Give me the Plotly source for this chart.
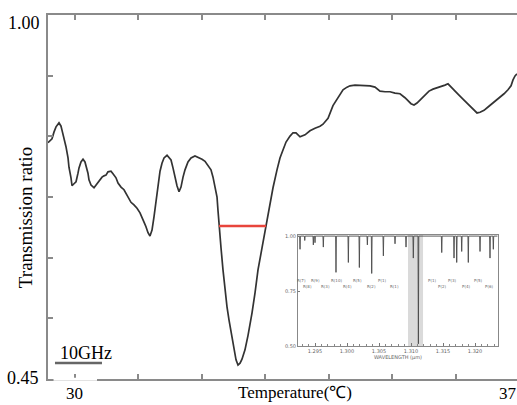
import plotly.graph_objects as go

# ---------------- main spectrum ----------------
temperature = [
    29.583, 29.614, 29.646, 29.677, 29.709, 29.756, 29.788, 29.803, 29.835, 29.866,
    29.898, 29.913, 29.945, 29.961, 29.992, 30.024, 30.055, 30.071, 30.102, 30.134,
    30.165, 30.181, 30.212, 30.228, 30.260, 30.307, 30.338, 30.354, 30.401, 30.433,
    30.464, 30.496, 30.527, 30.574, 30.606, 30.653, 30.685, 30.732, 30.779, 30.811,
    30.858, 30.889, 30.936, 30.984, 31.031, 31.062, 31.094, 31.125, 31.157, 31.188,
    31.220, 31.251, 31.283, 31.298, 31.330, 31.346, 31.377, 31.409, 31.456, 31.487,
    31.519, 31.550, 31.582, 31.613, 31.645, 31.676, 31.708, 31.739, 31.786, 31.834,
    31.896, 31.944, 32.007, 32.054, 32.101, 32.148, 32.180, 32.211, 32.243, 32.258,
    32.274, 32.306, 32.337, 32.369, 32.400, 32.432, 32.479, 32.510, 32.542, 32.573,
    32.605, 32.636, 32.683, 32.731, 32.762, 32.794, 32.841, 32.888, 32.951, 33.014,
    33.045, 33.077, 33.124, 33.187, 33.234, 33.281, 33.329, 33.392, 33.439, 33.486,
    33.549, 33.628, 33.706, 33.785, 33.864, 33.911, 33.990, 34.068, 34.147, 34.226,
    34.289, 34.336, 34.415, 34.493, 34.572, 34.651, 34.729, 34.808, 34.887, 34.965,
    35.044, 35.123, 35.201, 35.249, 35.296, 35.343, 35.390, 35.453, 35.516, 35.579,
    35.642, 35.705, 35.768, 35.831, 35.878, 35.925, 35.988, 36.051, 36.114, 36.177,
    36.240, 36.287, 36.335, 36.382, 36.445, 36.508, 36.571, 36.634, 36.697, 36.760,
    36.822, 36.870, 36.901, 36.933, 36.964,
]
transmission = [
    0.807, 0.810, 0.813, 0.823, 0.831, 0.837, 0.832, 0.826, 0.814, 0.801,
    0.784, 0.770, 0.754, 0.742, 0.745, 0.748, 0.761, 0.769, 0.778, 0.782,
    0.778, 0.773, 0.761, 0.751, 0.743, 0.739, 0.743, 0.746, 0.752, 0.755,
    0.757, 0.758, 0.763, 0.764, 0.760, 0.754, 0.746, 0.740, 0.736, 0.731,
    0.723, 0.717, 0.713, 0.708, 0.701, 0.695, 0.687, 0.680, 0.671, 0.666,
    0.675, 0.695, 0.716, 0.733, 0.751, 0.764, 0.776, 0.784, 0.788, 0.785,
    0.781, 0.769, 0.755, 0.742, 0.733, 0.740, 0.755, 0.766, 0.778, 0.784,
    0.787, 0.785, 0.782, 0.779, 0.773, 0.766, 0.755, 0.742, 0.725, 0.705,
    0.681, 0.648, 0.615, 0.584, 0.559, 0.539, 0.513, 0.494, 0.479, 0.471,
    0.474, 0.480, 0.494, 0.516, 0.532, 0.550, 0.580, 0.615, 0.648, 0.681,
    0.702, 0.720, 0.739, 0.766, 0.784, 0.796, 0.808, 0.817, 0.822, 0.822,
    0.816, 0.819, 0.825, 0.829, 0.832, 0.835, 0.844, 0.863, 0.876, 0.887,
    0.891, 0.893, 0.894, 0.894, 0.894, 0.893, 0.891, 0.885, 0.884, 0.884,
    0.882, 0.881, 0.875, 0.870, 0.866, 0.864, 0.867, 0.873, 0.879, 0.885,
    0.888, 0.890, 0.891, 0.894, 0.896, 0.891, 0.885, 0.879, 0.873, 0.867,
    0.861, 0.856, 0.852, 0.853, 0.856, 0.861, 0.866, 0.870, 0.875, 0.881,
    0.887, 0.893, 0.902, 0.908, 0.911,
]
fwhm_temperature = [32.274, 33.014]
fwhm_level = [0.681, 0.681]

x_ticks = [30, 31, 32, 33, 34, 35, 36, 37]
y_ticks = [0.45, 0.5417, 0.6333, 0.725, 0.8167, 0.9083, 1.00]

# ---------------- inset spectrum ----------------
inset_wl = [1.29266, 1.29340, 1.29474, 1.29500, 1.29630, 1.29828, 1.30021, 1.30193,
            1.30318, 1.30386, 1.30568, 1.30750, 1.30922, 1.31036, 1.31115, 1.31480,
            1.31672, 1.31714, 1.31792, 1.31895, 1.32078, 1.32234, 1.32286]
inset_depth = [0.94, 0.98, 0.96, 0.97, 0.95, 0.835, 0.88, 0.857,
               0.96, 0.83, 0.91, 0.965, 0.95, 0.90, 0.51, 0.925,
               0.90, 0.88, 0.93, 0.88, 0.93, 0.90, 0.94]
inset_labels = ["R(7)", "R(8)", "R(9)", "R(3)", "R(10)", "R(4)", "R(5)", "R(2)", "P(1)", "R(1)",
                "P(1)", "P(2)", "P(3)", "P(4)", "P(5)", "P(6)"]
inset_label_wl = [1.2929, 1.2939, 1.2950, 1.2967, 1.2983, 1.3000, 1.3017, 1.3038, 1.3056, 1.3074,
                  1.3133, 1.3149, 1.3165, 1.3186, 1.3205, 1.3222]
inset_label_level = [0.80, 0.77, 0.80, 0.77, 0.80, 0.77, 0.80, 0.77, 0.80, 0.77,
                     0.80, 0.77, 0.80, 0.77, 0.80, 0.77]
inset_xticks = [1.295, 1.300, 1.305, 1.310, 1.315, 1.320]
inset_xticktext = ["1.295", "1.300", "1.305", "1.310", "1.315", "1.320"]
inset_yticks = [0.50, 0.75, 1.00]
inset_yticktext = ["0.50", "0.75", "1.00"]
band_wl = [1.30953, 1.31188]

SERIF = "Liberation Serif, Times New Roman, serif"
AX = "#8a8a8a"

fig = go.Figure()
fig.add_trace(go.Scatter(x=temperature, y=transmission, mode="lines",
                         line=dict(color="#333333", width=1.7), hoverinfo="skip"))
fig.add_trace(go.Scatter(x=fwhm_temperature, y=fwhm_level, mode="lines",
                         line=dict(color="#e8453c", width=2.5), hoverinfo="skip"))

# inset: gray band as a filled trace
fig.add_trace(go.Scatter(x=[band_wl[0], band_wl[1], band_wl[1], band_wl[0], band_wl[0]],
                         y=[0.5, 0.5, 1.005, 1.005, 0.5], mode="lines", fill="toself",
                         fillcolor="#dadada", line=dict(width=0, color="#dadada"),
                         xaxis="x2", yaxis="y2", hoverinfo="skip"))

# inset spectrum line built from spikes
sx, sy = [1.2924], [1.0]
for w, d in zip(inset_wl, inset_depth):
    sx += [w - 0.00006, w, w + 0.00006]
    sy += [1.0, d, 1.0]
sx.append(1.3235)
sy.append(1.0)
fig.add_trace(go.Scatter(x=sx, y=sy, mode="lines", xaxis="x2", yaxis="y2",
                         line=dict(color="#4a4a4a", width=0.9), hoverinfo="skip"))

fig.update_layout(
    width=517, height=405,
    margin=dict(l=48, r=0, t=15, b=26),
    paper_bgcolor="white", plot_bgcolor="white",
    showlegend=False,
    font=dict(family=SERIF, color="black", size=17),
    xaxis=dict(domain=[0, 1], range=[29.583, 36.964], tickvals=x_ticks,
               showticklabels=False, ticks="inside", ticklen=5, tickwidth=1.5,
               tickcolor=AX, showline=True, linecolor=AX, linewidth=1.5,
               mirror="ticks", showgrid=False, zeroline=False),
    yaxis=dict(domain=[0, 1], range=[0.45, 1.00], tickvals=y_ticks,
               showticklabels=False, ticks="inside", ticklen=5, tickwidth=1.5,
               tickcolor=AX, showline=True, linecolor=AX, linewidth=1.5,
               showgrid=False, zeroline=False),
    xaxis2=dict(domain=[0.533, 0.9595], anchor="y2", range=[1.29234, 1.32359],
                tickvals=inset_xticks, ticktext=inset_xticktext,
                tickfont=dict(size=5, family="DejaVu Sans", color="#666"),
                ticks="inside", ticklen=3, tickwidth=0.6, tickcolor="#777",
                minor=dict(dtick=0.001, ticks="inside", ticklen=2, tickcolor="#888", tickwidth=0.5),
                showline=True, linecolor="#888", linewidth=0.8, mirror=True,
                showgrid=False, zeroline=False,
                title=dict(text="WAVELENGTH (μm)", standoff=2,
                           font=dict(size=5, family="DejaVu Sans", color="#666"))),
    yaxis2=dict(domain=[0.0907, 0.3956], anchor="x2", range=[0.5, 1.005],
                tickvals=inset_yticks, ticktext=inset_yticktext,
                tickfont=dict(size=5, family="DejaVu Sans", color="#666"),
                ticks="inside", ticklen=2, tickwidth=0.6, tickcolor="#777",
                showline=True, linecolor="#888", linewidth=0.8, mirror=True,
                showgrid=False, zeroline=False),
)

shapes = [
    # 10GHz scale bar
    dict(type="line", xref="paper", yref="paper", x0=0.0149, x1=0.1151, y0=0.044, y1=0.044,
         line=dict(color="#666666", width=2.5)),
    # gap in bottom axis line
    dict(type="rect", xref="paper", yref="paper", x0=0.0118, x1=0.1045, y0=-0.0045, y1=0.0035,
         fillcolor="white", line=dict(width=0), layer="above"),
]
fig.update_layout(shapes=shapes)

ann = [
    dict(text="1.00", xref="paper", yref="paper", x=-0.013, y=0.978, xanchor="right", yanchor="middle",
         showarrow=False, font=dict(size=18)),
    dict(text="0.45", xref="paper", yref="paper", x=-0.015, y=0.003, xanchor="right", yanchor="middle",
         showarrow=False, font=dict(size=18)),
    dict(text="30", xref="x", yref="paper", x=30, y=-0.0385, xanchor="center", yanchor="middle",
         showarrow=False, font=dict(size=17)),
    dict(text="37", xref="paper", yref="paper", x=0.9808, y=-0.0385, xanchor="center", yanchor="middle",
         showarrow=False, font=dict(size=17)),
    dict(text="Temperature(℃)", xref="paper", yref="paper", x=0.5267, y=-0.036, xanchor="center",
         yanchor="middle", showarrow=False, font=dict(size=17)),
    dict(text="Transmission ratio", xref="paper", yref="paper", x=-0.049, y=0.442, xanchor="center",
         yanchor="middle", textangle=-90, showarrow=False, font=dict(size=19)),
    dict(text="10GHz", xref="paper", yref="paper", x=0.081, y=0.0728, xanchor="center",
         yanchor="middle", showarrow=False, font=dict(size=18)),
]
for lab, w, lv in zip(inset_labels, inset_label_wl, inset_label_level):
    ann.append(dict(text=lab, xref="x2", yref="y2", x=w, y=lv, showarrow=False,
                    font=dict(size=4, family="DejaVu Sans", color="#666")))
fig.update_layout(annotations=ann)

fig.write_html("out.html")
